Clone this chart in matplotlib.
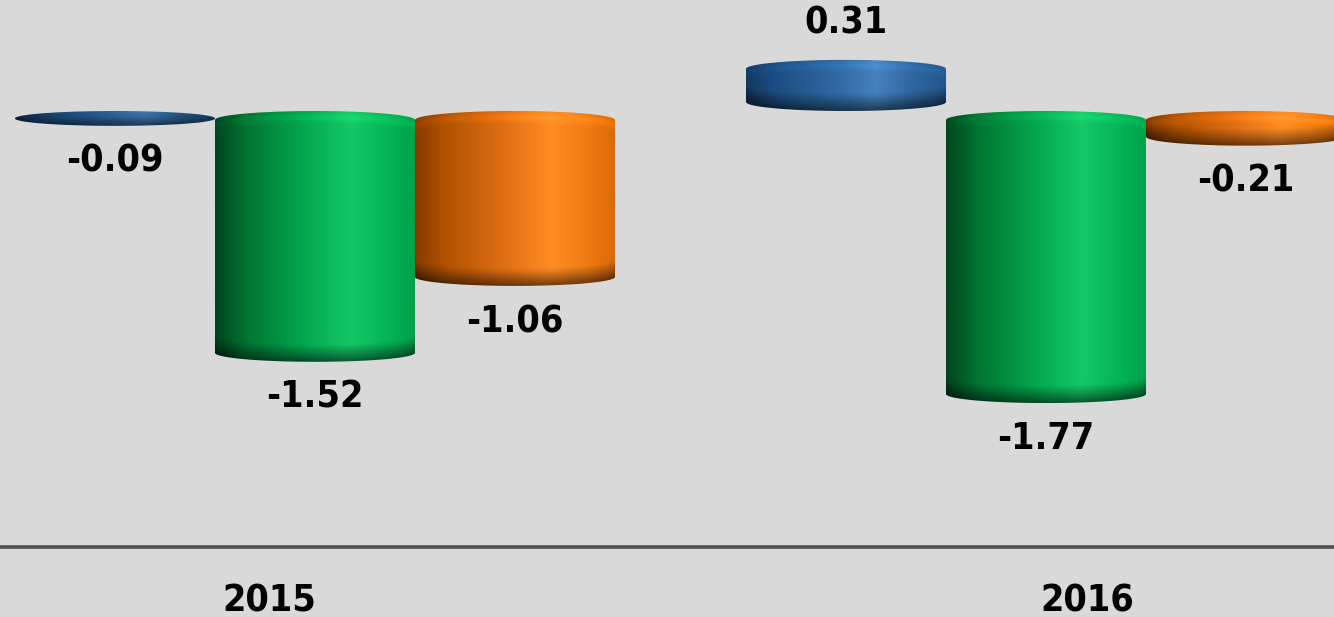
import numpy as np
import matplotlib
matplotlib.use("Agg")
import matplotlib.pyplot as plt
from matplotlib.colors import LinearSegmentedColormap
from matplotlib.patches import Polygon

# data
years = ["2015", "2016"]
series = ["blue", "green", "orange"]
values = {
    "blue": [-0.09, 0.31],
    "green": [-1.52, -1.77],
    "orange": [-1.06, -0.21],
}

# shading stops for each series (left -> right across the cylinder)
stops = {
    "green": [(0, "#00461e"), (0.15, "#007432"), (0.45, "#04a84e"),
              (0.68, "#14c866"), (0.85, "#06b657"), (1, "#00a24a")],
    "orange": [(0, "#883b00"), (0.15, "#b05200"), (0.45, "#e07014"),
               (0.68, "#ff8c24"), (0.85, "#f27d16"), (1, "#da6a08")],
    "blue": [(0, "#133963"), (0.15, "#1d4e82"), (0.45, "#2e69a2"),
             (0.65, "#4482be"), (0.85, "#2d659d"), (1, "#24578c")],
}
cmaps = {k: LinearSegmentedColormap.from_list(k, v) for k, v in stops.items()}

BG = "#d9d9d9"
group_x = [0, 3.655]
bar_w = 1.0
label_x = [-0.23, 3.86]      # year labels sit a little off the group centres
PX_X, PX_Y = 200.0, 165.0    # pixels per data unit
CAP = 9 / PX_Y               # half height of the elliptical caps
FONT = dict(fontsize=27, fontweight="bold", fontstretch="condensed",
            family="DejaVu Sans", color="black")

fig = plt.figure(figsize=(13.34, 6.17), dpi=100, facecolor=BG)
ax = fig.add_axes([0, 0, 1, 1])
ax.set_facecolor(BG)
ax.set_xlim(-315 / PX_X, (1334 - 315) / PX_X)
ax.set_ylim(-(617 - 111) / PX_Y, 111 / PX_Y)
ax.axis("off")


def cylinder(xc, v, cmap):
    top, bot = max(0, v), min(0, v)
    h = min(CAP, (top - bot) / 2)
    xl, xr = xc - bar_w / 2, xc + bar_w / 2

    # outline: upper arc of the lid, lower arc of the base
    t = np.linspace(0, np.pi, 80)
    upper = np.column_stack([xc + bar_w / 2 * np.cos(t), top - h + h * np.sin(t)])
    t2 = np.linspace(np.pi, 2 * np.pi, 80)
    lower = np.column_stack([xc + bar_w / 2 * np.cos(t2), bot + h + h * np.sin(t2)])
    outline = Polygon(np.vstack([upper, lower]), closed=True,
                      facecolor="none", edgecolor="none")
    ax.add_patch(outline)

    nx = 260
    ny = max(40, int((top - bot) * PX_Y) * 2)
    xs = np.linspace(xl, xr, nx)
    ys = np.linspace(bot, top, ny)
    X, Y = np.meshgrid(xs, ys)
    u = (X - xl) / bar_w
    rgb = cmap(u)[..., :3]
    r = np.sqrt(np.clip(1 - (2 * u - 1) ** 2, 0, 1))

    # darker rounded base
    arc_b = bot + h - h * r
    d_b = (Y - arc_b) * PX_Y
    dark = 1 - 0.55 * np.clip(1 - d_b / 18, 0, 1) ** 1.1
    # faint highlight just below the lid edge
    arc_t = top - h + h * r
    d_t = (arc_t - Y) * PX_Y
    light = 1 + 0.10 * np.exp(-((d_t - 6) / 4) ** 2)

    img = np.clip(rgb * dark[..., None] * light[..., None], 0, 1)
    ax.imshow(img, extent=(xl, xr, bot, top), origin="lower", aspect="auto",
              interpolation="bilinear", clip_path=outline, zorder=2)


for gi, gx in enumerate(group_x):
    for si, name in enumerate(series):
        v = values[name][gi]
        xc = gx + (si - 1) * bar_w
        cylinder(xc, v, cmaps[name])
        off = 26 if v > 0 else -26
        ax.annotate(f"{v:.2f}", xy=(xc, v), xytext=(0, off),
                    textcoords="offset points", ha="center", va="center",
                    zorder=5, **FONT)

# category axis line
ax.axhline(-(547 - 111) / PX_Y, color="#505050", lw=2.6, zorder=3)

for lx, yr in zip(label_x, years):
    ax.text(lx, -(601 - 111) / PX_Y, yr, ha="center", va="center", **FONT)

fig.savefig("out.png", dpi=100, facecolor=BG)
